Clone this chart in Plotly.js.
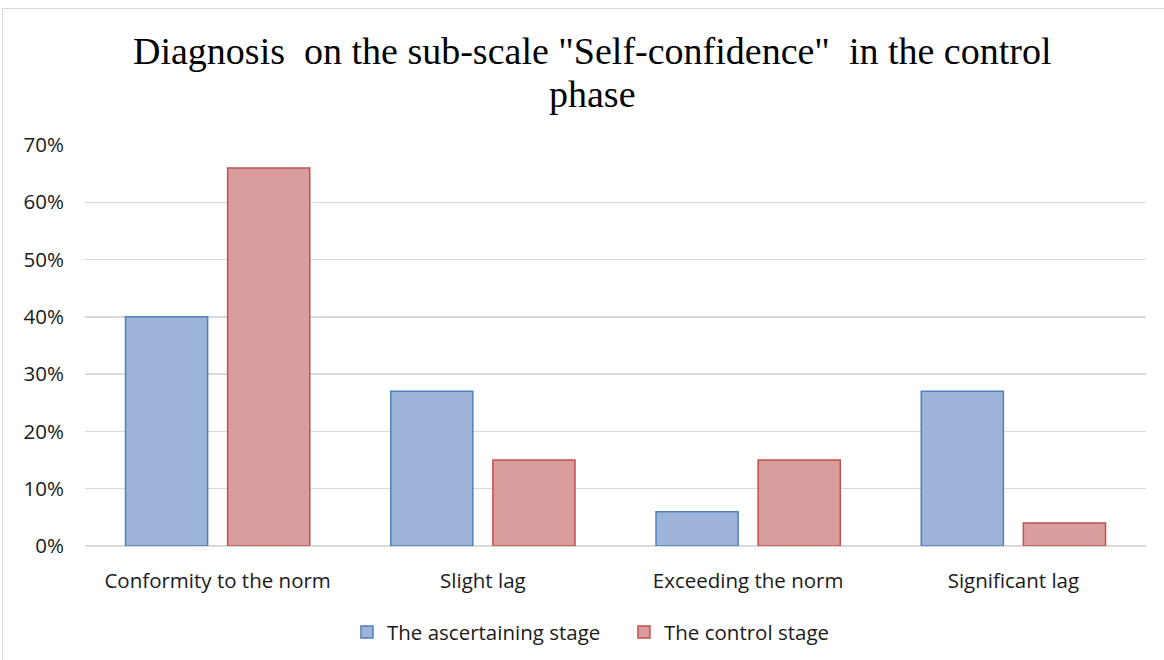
<!DOCTYPE html>
<html>
<head>
<meta charset="utf-8">
<script src="https://cdn.plot.ly/plotly-3.0.1.min.js"></script>
<style>
html,body{margin:0;padding:0;background:#fff;}
#frame{position:absolute;left:2px;top:8px;width:1200px;height:700px;border:1px solid #d9d9d9;pointer-events:none;}
#chart{position:absolute;left:0;top:0;width:1164px;height:660px;}
</style>
</head>
<body>
<div id="chart"></div>
<div id="frame"></div>
<script>
var categories = ["Conformity to the norm", "Slight lag", "Exceeding the norm", "Significant lag"];
var ascertaining = [0.40, 0.27, 0.06, 0.27];
var control = [0.66, 0.15, 0.15, 0.04];
var seriesNames = ["The ascertaining stage", "The control stage"];
var yTicks = [0, 0.1, 0.2, 0.3, 0.4, 0.5, 0.6, 0.7];
var yTickText = ["0%", "10%", "20%", "30%", "40%", "50%", "60%", "70%"];
var titleLines = ["Diagnosis  on the sub-scale \"Self-confidence\"  in the control", "phase"];

var tickFont = {family: "Open Sans, sans-serif", size: 20.5, color: "#1a1a1a"};

var traces = [
  {type: "bar", x: categories, y: ascertaining, name: seriesNames[0],
   marker: {color: "#9DB3D8", line: {color: "#4F81BD", width: 1.5}}, hoverinfo: "none"},
  {type: "bar", x: categories, y: control, name: seriesNames[1],
   marker: {color: "#DA9D9D", line: {color: "#C0504D", width: 1.5}}, hoverinfo: "none"}
];

var titleFont = {family: "Liberation Serif, Times New Roman, serif", size: 38, color: "#000"};

var layout = {
  width: 1164, height: 660,
  margin: {l: 85, r: 18, t: 145, b: 114},
  paper_bgcolor: "#ffffff", plot_bgcolor: "#ffffff",
  annotations: [
    {text: titleLines[0], xref: "paper", yref: "paper", x: 0.478, y: 1.234, xanchor: "center", yanchor: "middle",
     showarrow: false, font: titleFont},
    {text: titleLines[1], xref: "paper", yref: "paper", x: 0.478, y: 1.127, xanchor: "center", yanchor: "middle",
     showarrow: false, font: titleFont}
  ],
  barmode: "group", bargap: 0.23, bargroupgap: 0.196,
  xaxis: {showgrid: false, zeroline: false, showline: false, ticks: "", ticklabelstandoff: 20,
          tickfont: tickFont, automargin: false},
  yaxis: {range: [0, 0.7], tickvals: yTicks, ticktext: yTickText, showgrid: true,
          gridcolor: "#d9d9d9", gridwidth: 1.5, zeroline: true, zerolinecolor: "#d9d9d9", zerolinewidth: 1.5,
          showline: false, ticks: "", ticklabelstandoff: 20,
          tickfont: tickFont, automargin: false},
  showlegend: true,
  legend: {orientation: "h", x: 0.508, xanchor: "center", yref: "container", y: 0.042, yanchor: "middle",
           font: tickFont, itemwidth: 30, entrywidth: 232, entrywidthmode: "pixels"},
  hovermode: false
};
Plotly.newPlot("chart", traces, layout, {displayModeBar: false, staticPlot: true});
</script>
</body>
</html>
